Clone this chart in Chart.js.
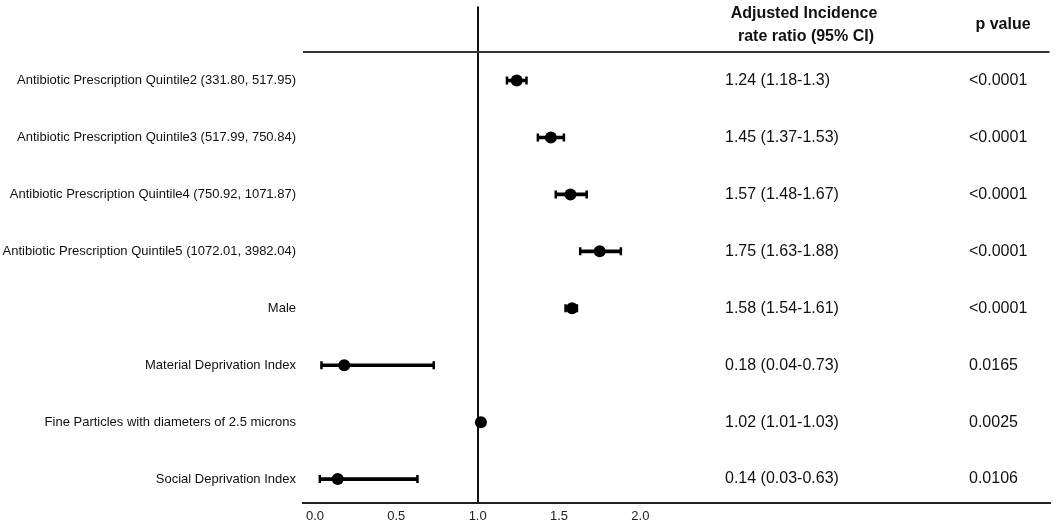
<!DOCTYPE html>
<html>
<head>
<meta charset="utf-8">
<script src="https://cdn.jsdelivr.net/npm/chart.js"></script>
<style>
  html, body { margin: 0; padding: 0; background: #fff; }
  #wrap { width: 1056px; height: 523px; position: relative; }
</style>
</head>
<body>
<div id="wrap"><canvas id="forest"></canvas></div>
<script>
// Rows, top to bottom
const labels = [
  'Antibiotic Prescription Quintile2 (331.80, 517.95)',
  'Antibiotic Prescription Quintile3 (517.99, 750.84)',
  'Antibiotic Prescription Quintile4 (750.92, 1071.87)',
  'Antibiotic Prescription Quintile5 (1072.01, 3982.04)',
  'Male',
  'Material Deprivation Index',
  'Fine Particles with diameters of 2.5 microns',
  'Social Deprivation Index'
];
const estimate = [1.24, 1.45, 1.57, 1.75, 1.58, 0.18, 1.02, 0.14];
const lower = [1.18, 1.37, 1.48, 1.63, 1.54, 0.04, 1.01, 0.03];
const upper = [1.3, 1.53, 1.67, 1.88, 1.61, 0.73, 1.03, 0.63];
const ciText = [
  '1.24 (1.18-1.3)', '1.45 (1.37-1.53)', '1.57 (1.48-1.67)', '1.75 (1.63-1.88)',
  '1.58 (1.54-1.61)', '0.18 (0.04-0.73)', '1.02 (1.01-1.03)', '0.14 (0.03-0.63)'
];
const pText = ['<0.0001', '<0.0001', '<0.0001', '<0.0001', '<0.0001', '0.0165', '0.0025', '0.0106'];
const xTicks = [0, 0.5, 1.0, 1.5, 2.0];

const FONT = "'Liberation Sans', Arial, sans-serif";
const HEADER_ROW = -0.5; // separator line under the column headers

// Text columns on the right, plus their headers
const tablePlugin = {
  id: 'tableText',
  afterDraw(chart) {
    const ctx = chart.ctx;
    const y = chart.scales.y;
    ctx.save();
    ctx.fillStyle = '#111';
    ctx.textBaseline = 'middle';
    ctx.font = '16px ' + FONT;
    ctx.textAlign = 'left';
    labels.forEach((_, i) => {
      const py = y.getPixelForValue(i);
      ctx.fillText(ciText[i], 725, py);
      ctx.fillText(pText[i], 969, py);
    });
    ctx.font = 'bold 16px ' + FONT;
    ctx.textAlign = 'center';
    ctx.fillText('Adjusted Incidence', 804, 14);
    ctx.fillText('rate ratio (95% CI)', 806, 37);
    ctx.fillText('p value', 1003, 25);
    ctx.restore();
  }
};

new Chart(document.getElementById('forest'), {
  data: {
    datasets: [
      {
        type: 'bar',
        indexAxis: 'y',
        data: labels.map((_, i) => ({ y: i, x: [lower[i], upper[i]] })),
        backgroundColor: '#000',
        borderWidth: 0,
        barThickness: 3,
        order: 3
      },
      {
        type: 'scatter',
        data: labels.flatMap((_, i) => [{ x: lower[i], y: i }, { x: upper[i], y: i }]),
        pointStyle: 'line',
        rotation: 90,
        pointRadius: 4,
        borderColor: '#000',
        borderWidth: 2.5,
        order: 2
      },
      {
        type: 'scatter',
        data: labels.map((_, i) => ({ x: estimate[i], y: i })),
        pointRadius: 6,
        backgroundColor: '#000',
        borderColor: '#000',
        borderWidth: 0,
        order: 1
      }
    ]
  },
  options: {
    responsive: true,
    maintainAspectRatio: false,
    animation: false,
    layout: { padding: { top: 0, right: 3, bottom: 0, left: 0 } },
    plugins: { legend: { display: false }, tooltip: { enabled: false } },
    scales: {
      x: {
        type: 'linear',
        min: -0.0734,
        max: 4.514,
        offset: false,
        afterBuildTicks: scale => { scale.ticks = xTicks.map(v => ({ value: v })); },
        afterFit: scale => {
          scale.height = 20;
          scale.paddingLeft = 0;
          scale.paddingRight = 0;
        },
        ticks: {
          padding: 6,
          color: '#222',
          font: { family: FONT, size: 13 },
          callback: v => v.toFixed(1)
        },
        grid: {
          offset: false,
          drawTicks: false,
          lineWidth: 2,
          color: c => (c.tick && c.tick.value === 1 ? '#111' : 'rgba(0,0,0,0)')
        },
        border: { display: true, color: '#222', width: 2 }
      },
      y: {
        type: 'linear',
        reverse: true,
        min: -1.30,
        max: 7.42,
        offset: false,
        afterBuildTicks: scale => {
          scale.ticks = [HEADER_ROW].concat(labels.map((_, i) => i)).map(v => ({ value: v }));
        },
        afterFit: scale => {
          scale.width = 303;
          scale.paddingTop = 0;
          scale.paddingBottom = 0;
        },
        ticks: {
          padding: 7,
          color: '#111',
          font: { family: FONT, size: 13 },
          callback: v => (Number.isInteger(v) ? labels[v] : '')
        },
        grid: {
          offset: false,
          drawTicks: false,
          lineWidth: 2,
          color: c => (c.tick && c.tick.value === HEADER_ROW ? '#333' : 'rgba(0,0,0,0)')
        },
        border: { display: false }
      }
    }
  },
  plugins: [tablePlugin]
});
</script>
</body>
</html>
